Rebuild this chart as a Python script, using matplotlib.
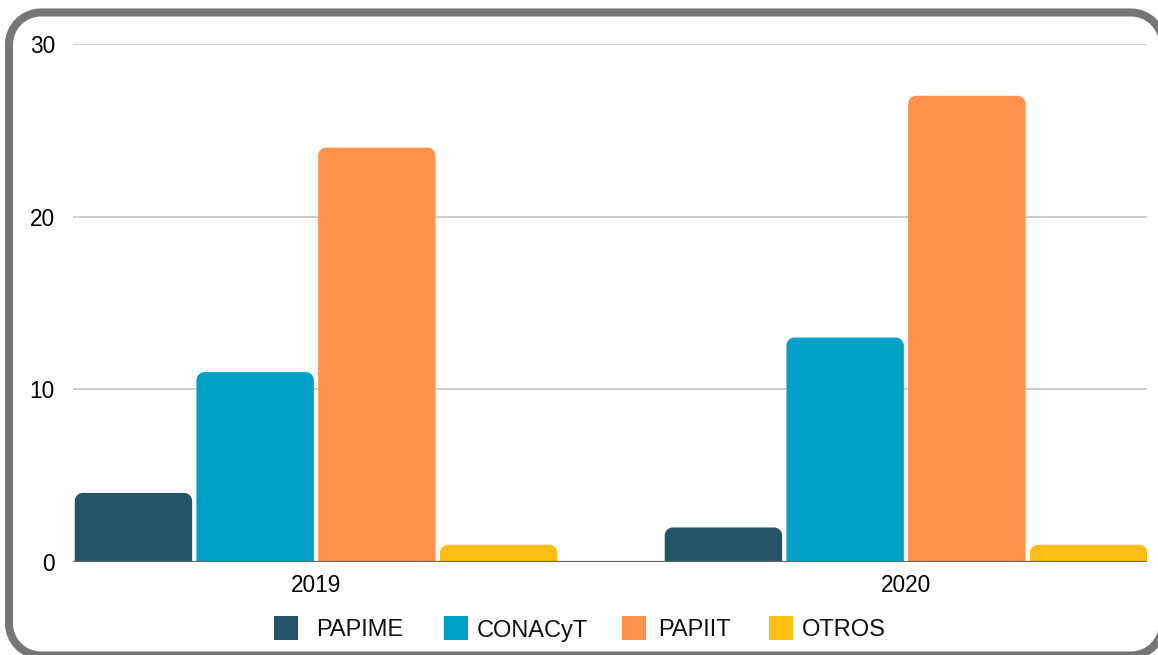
import numpy as np
import matplotlib
matplotlib.use("Agg")
import matplotlib.pyplot as plt
from matplotlib.patches import Rectangle, PathPatch
from matplotlib.path import Path

plt.rcParams["font.family"] = ["Liberation Sans", "DejaVu Sans"]

# ── data ──────────────────────────────────────────────────────────────────────
years = ["2019", "2020"]
series = ["PAPIME", "CONACyT", "PAPIIT", "OTROS"]
papime = [4, 2]
conacyt = [11, 13]
papiit = [24, 27]
otros = [1, 1]
values = [papime, conacyt, papiit, otros]
colors = ["#245567", "#01A0C7", "#FF914D", "#FFBC11"]
yticks = [0, 10, 20, 30]

W, H, DPI = 1158, 655, 100
fig = plt.figure(figsize=(W / DPI, H / DPI), dpi=DPI, facecolor="white")

# axes placed in pixel terms
left, right, top, bottom = 73, 1147, 44, 562
ax = fig.add_axes([left / W, 1 - bottom / H, (right - left) / W, (bottom - top) / H])
ax.set_facecolor("none")

x = np.arange(len(years))
slot = 0.2063
bw = 0.199
ax.set_xlim(-0.4119, 1.4085)
ax.set_ylim(0, 30)

K = 0.5523  # bezier quarter-circle constant


def rounded_path(x0, y0, x1, y1, rx, ry, corners):
    """Closed path for a rectangle; corners = (bl, br, tr, tl) booleans."""
    bl, br, tr, tl = corners
    verts, codes = [], []

    def move(p):
        verts.append(p); codes.append(Path.MOVETO)

    def line(p):
        verts.append(p); codes.append(Path.LINETO)

    def arc(p1, p2, p3):
        verts.extend([p1, p2, p3]); codes.extend([Path.CURVE4] * 3)

    move((x0, y0 + ry) if bl else (x0, y0))
    line((x0, y1 - ry) if tl else (x0, y1))
    if tl:
        arc((x0, y1 - ry + K * ry), (x0 + rx - K * rx, y1), (x0 + rx, y1))
    line((x1 - rx, y1) if tr else (x1, y1))
    if tr:
        arc((x1 - rx + K * rx, y1), (x1, y1 - ry + K * ry), (x1, y1 - ry))
    line((x1, y0 + ry) if br else (x1, y0))
    if br:
        arc((x1, y0 + ry - K * ry), (x1 - rx + K * rx, y0), (x1 - rx, y0))
    line((x0 + rx, y0) if bl else (x0, y0))
    if bl:
        arc((x0 + rx - K * rx, y0), (x0, y0 + ry - K * ry), (x0, y0 + ry))
    verts.append(verts[0]); codes.append(Path.CLOSEPOLY)
    return Path(verts, codes)


# pixel -> data scale for rounded bar tops
px_x = (1.4085 + 0.4119) / (right - left)
px_y = 30 / (bottom - top)
r = 8

for i, (vals, col) in enumerate(zip(values, colors)):
    offs = (i - 1.5) * slot
    for xi, v in zip(x, vals):
        x0 = xi + offs - bw / 2
        p = rounded_path(x0, 0, x0 + bw, v, r * px_x, min(r * px_y, v),
                         (False, False, True, True))
        ax.add_patch(PathPatch(p, facecolor=col, edgecolor="none", zorder=3))

# grid + baseline
for t in yticks[1:]:
    ax.axhline(t, color="#c0c0c0", lw=1.1, zorder=1)
ax.axhline(0, color="#666666", lw=1.6, zorder=4)

for sp in ax.spines.values():
    sp.set_visible(False)
ax.set_yticks(yticks)
ax.set_yticklabels([str(t) for t in yticks], fontsize=16.3)
ax.set_xticks(x)
ax.set_xticklabels(years, fontsize=16.3)
ax.tick_params(axis="y", length=0, pad=13)
ax.tick_params(axis="x", length=0, pad=9)

# legend, drawn by hand to follow the reference spacing
sq_left = [274, 444, 622, 769]
txt_left = [316, 477, 658.5, 801.5]
for sx, tx, lab, col in zip(sq_left, txt_left, series, colors):
    fig.patches.append(Rectangle((sx / W, 1 - 640 / H), 24 / W, 24 / H,
                                 transform=fig.transFigure, facecolor=col,
                                 edgecolor="none"))
    fig.text(tx / W, 1 - 628 / H, lab, fontsize=17, ha="left",
             va="center_baseline", color="#111111")

# rounded grey frame (right and bottom edges run off the image);
# filled white and kept behind the axes so Agg does not clip the curves
R = 32
frame = rounded_path(9 / W, 1 - 655.5 / H, 1163 / W, 1 - 12.5 / H,
                     R / W, R / H, (True, True, True, True))
fig.patches.append(PathPatch(frame, transform=fig.transFigure,
                             facecolor="white", edgecolor="#767676",
                             lw=5.8, zorder=-5))

fig.savefig("out.png", dpi=DPI, facecolor="white")
